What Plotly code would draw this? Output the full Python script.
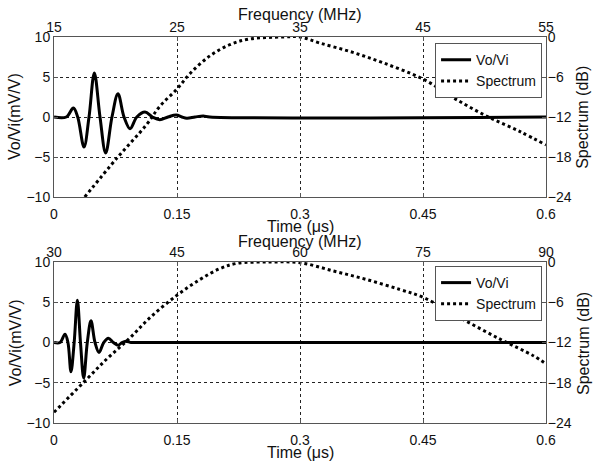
import plotly.graph_objects as go

# ---- top panel: Vo/Vi waveform (time, us) and spectrum (MHz, dB)
time_top = [0, 0.015, 0.0236, 0.0289, 0.0366, 0.0427, 0.0492, 0.0561, 0.063, 0.0707,
            0.078, 0.0854, 0.0927, 0.101, 0.111, 0.120, 0.129, 0.139, 0.149, 0.156,
            0.162, 0.172, 0.182, 0.19, 0.6]
vovi_top = [0, 0, 1.12, 0, -3.75, 0, 5.5, 0, -4.5, 0,
            2.9, 0, -1.46, 0, 0.62, 0, -0.33, 0, 0.25, 0,
            -0.15, 0, 0.12, 0, 0]
freq_top = [17.5, 20.1, 22.5, 23.6, 25.0, 26.1, 27.7, 29.3, 30.9, 33.6, 35.0,
            36.6, 39.1, 41.8, 45.1, 47.5, 50.2, 52.9, 55.0]
spec_top = [-24.0, -18.2, -13.2, -10.4, -7.8, -5.4, -2.8, -1.15, -0.3, 0.0, 0.0,
            -0.9, -2.2, -3.9, -6.4, -9.15, -11.9, -14.2, -16.2]

# ---- bottom panel
time_bot = [0, 0.0073, 0.0134, 0.017, 0.0207, 0.0246, 0.0285, 0.0323, 0.0362, 0.0406,
            0.0451, 0.050, 0.0549, 0.0606, 0.0663, 0.0724, 0.0785, 0.083, 0.0878, 0.094,
            0.1, 0.6]
vovi_bot = [0, 0, 1.04, 0, -3.63, 0, 5.25, 0, -4.42, 0,
            2.69, 0, -1.24, 0, 0.54, 0, -0.33, 0, 0.17, 0,
            0, 0]
freq_bot = [30.0, 33.6, 36.4, 39.1, 41.7, 45.0, 47.8, 50.2, 52.3, 56.3, 60.0,
            64.1, 68.1, 72.2, 75.1, 79.5, 84.4, 88.5, 90.0]
spec_bot = [-22.4, -17.95, -14.5, -11.5, -8.3, -4.95, -2.6, -1.0, -0.2, 0.0, -0.1,
            -1.34, -2.6, -4.1, -5.3, -8.3, -11.5, -14.0, -15.2]

time_ticks = [0, 0.15, 0.3, 0.45, 0.6]
time_labels = ["0", "0.15", "0.3", "0.45", "0.6"]
freq_ticks_top = [15, 25, 35, 45, 55]
freq_ticks_bot = [30, 45, 60, 75, 90]
vovi_ticks = [-10, -5, 0, 5, 10]
db_ticks = [-24, -18, -12, -6, 0]

FONT = "Liberation Sans, Arial, sans-serif"

fig = go.Figure()
panels = [
    (time_top, vovi_top, freq_top, spec_top, "x", "y", "x2", "y2", "legend"),
    (time_bot, vovi_bot, freq_bot, spec_bot, "x3", "y3", "x4", "y4", "legend2"),
]
for t, v, f, s, xa, ya, xb, yb, lg in panels:
    fig.add_trace(go.Scatter(x=t, y=v, name="Vo/Vi", mode="lines",
                             line=dict(color="black", width=3, shape="spline"),
                             xaxis=xa, yaxis=ya, legend=lg))
    fig.add_trace(go.Scatter(x=f, y=s, name="Spectrum", mode="lines",
                             line=dict(color="black", width=3, dash="3px,3px", shape="spline"),
                             xaxis=xb, yaxis=yb, legend=lg))

frame = dict(showline=True, linecolor="#555", linewidth=1, ticks="inside", ticklen=4,
             tickcolor="#555", zeroline=False, automargin=False,
             tickfont=dict(size=14, color="#111"))
grid = dict(showgrid=True, gridcolor="#222", griddash="dot", gridwidth=1)
nogrid = dict(showgrid=False)

top_dom = [0.5855, 1.0]
bot_dom = [0.0, 0.417]

fig.update_layout(
    width=600, height=468,
    margin=dict(l=54, r=54, t=37, b=45),
    paper_bgcolor="white", plot_bgcolor="white",
    font=dict(family=FONT, size=14, color="#111"),
    showlegend=True,
    xaxis=dict(domain=[0, 1], anchor="y", range=[0, 0.6], tickvals=time_ticks,
               ticktext=time_labels, ticklabelstandoff=4, **frame, **grid),
    yaxis=dict(domain=top_dom, anchor="x", range=[-10, 10], tickvals=vovi_ticks,
               **frame, **grid),
    xaxis2=dict(overlaying="x", anchor="y", side="top", range=[15, 55],
                tickvals=freq_ticks_top, ticklabelstandoff=-2, **frame, **nogrid),
    yaxis2=dict(overlaying="y", anchor="x", side="right", range=[-24, 0],
                tickvals=db_ticks, ticklabelstandoff=-2, **frame, **nogrid),
    xaxis3=dict(domain=[0, 1], anchor="y3", range=[0, 0.6], tickvals=time_ticks,
                ticktext=time_labels, ticklabelstandoff=4, **frame, **grid),
    yaxis3=dict(domain=bot_dom, anchor="x3", range=[-10, 10], tickvals=vovi_ticks,
                **frame, **grid),
    xaxis4=dict(overlaying="x3", anchor="y3", side="top", range=[30, 90],
                tickvals=freq_ticks_bot, ticklabelstandoff=-2, **frame, **nogrid),
    yaxis4=dict(overlaying="y3", anchor="x3", side="right", range=[-24, 0],
                tickvals=db_ticks, ticklabelstandoff=-2, **frame, **nogrid),
    legend=dict(x=0.992, y=0.984, xanchor="right", yanchor="top", bgcolor="white",
                bordercolor="#555", borderwidth=1, font=dict(size=14),
                tracegroupgap=0, itemwidth=30),
    legend2=dict(x=0.992, y=0.4067, xanchor="right", yanchor="top", bgcolor="white",
                 bordercolor="#555", borderwidth=1, font=dict(size=14),
                 tracegroupgap=0, itemwidth=30),
)

# axis titles placed where the reference has them
titles = [
    ("Frequency (MHz)", 0.5, 1.058, 0),
    ("Time (μs)", 0.5, 0.508, 0),
    ("Frequency (MHz)", 0.5, 0.4715, 0),
    ("Time (μs)", 0.5, -0.077, 0),
    ("Vo/Vi(mV/V)", -0.079, 0.793, -90),
    ("Vo/Vi(mV/V)", -0.079, 0.207, -90),
    ("Spectrum (dB)", 1.075, 0.793, -90),
    ("Spectrum (dB)", 1.075, 0.207, -90),
]
for txt, x, y, ang in titles:
    fig.add_annotation(text=txt, x=x, y=y, xref="paper", yref="paper", showarrow=False,
                       xanchor="center", yanchor="middle", textangle=ang,
                       font=dict(size=16, color="#111"))

# drop the default 8px page margin so the figure fills the window
fig.write_html("out.html", config={"displayModeBar": False},
               post_script="document.body.style.margin='0';")
